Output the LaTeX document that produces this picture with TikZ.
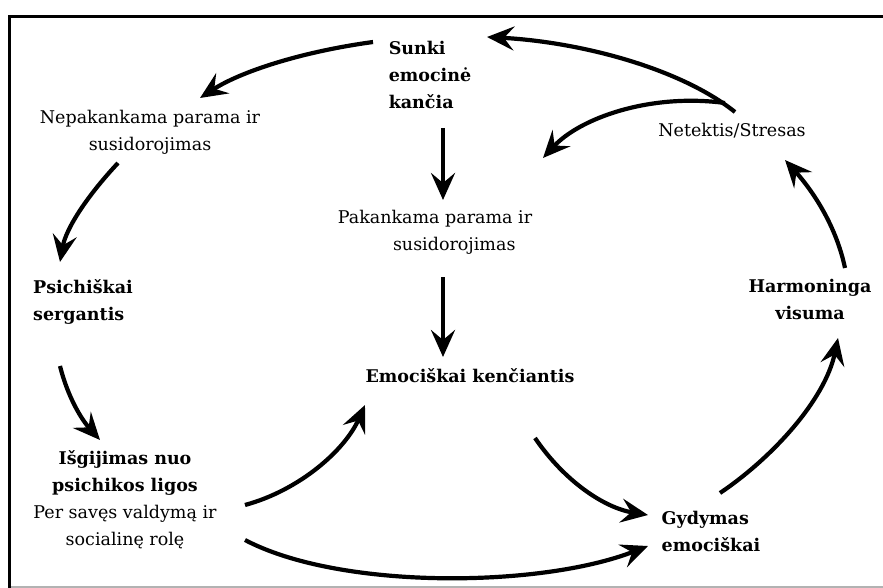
\documentclass[tikz,border=0pt]{standalone}
\usepackage{fontspec}
\setmainfont{DejaVu Serif}
\usetikzlibrary{arrows.meta}
\begin{document}
\begin{tikzpicture}[x=1pt,y=-1pt,
  txt/.style={inner sep=0pt,font=\fontsize{17.5}{27}\selectfont},
  bt/.style={inner sep=0pt,font=\fontsize{17.5}{27}\selectfont\bfseries},
  arr/.style={line width=4.2pt,-{Stealth[length=27pt,width=24pt,inset=10pt]}},
  frame/.style={line width=3.2pt}]
\useasboundingbox[fill=white] (0,0) rectangle (883,588);
% frame
\draw[frame] (9.5,588) -- (9.5,16.5) -- (883,16.5);
\draw[black!30,line width=1.5pt] (11,587) -- (883,587);
% nodes
\node[bt,align=left] (sunki) at (430,75) {Sunki\\emocinė\\kančia};
\node[txt,align=center] (nepak) at (150,132) {Nepakankama parama ir\\susidorojimas};
\node[txt,align=center] (pak) at (435,232) {Pakankama parama ir\\\hspace*{2.2em}susidorojimas};
\node[txt] (net) at (732,131) {Netektis/Stresas};
\node[bt,align=left] (psich) at (83,302) {Psichiškai\\sergantis};
\node[txt,align=center] (isg) at (125,500) {\textbf{Išgijimas nuo}\\\textbf{psichikos ligos}\\Per savęs valdymą ir\\socialinę rolę};
\node[bt] (emo) at (470,376) {Emociškai kenčiantis};
\node[bt,align=left] (gyd) at (711,531) {Gydymas\\emociškai};
\node[bt,align=center] (harm) at (810,299) {Harmoninga\\visuma};
% connector end points
\coordinate (s1) at (373,42);   \coordinate (n1) at (200,98);
\coordinate (n2) at (118,163);  \coordinate (p1) at (60,262);
\coordinate (p2) at (60,366);   \coordinate (i1) at (100,440);
\coordinate (i2) at (245,505);  \coordinate (e1) at (365,405);
\coordinate (i3) at (245,540);  \coordinate (g1) at (648,546);
\coordinate (e2) at (535,438);  \coordinate (g2) at (648,515);
\coordinate (g3) at (720,493);  \coordinate (h1) at (838,338);
\coordinate (h2) at (845,268);  \coordinate (t1) at (785,160);
\coordinate (t2) at (735,112);  \coordinate (s2) at (487,37);
\coordinate (t3) at (725,103);  \coordinate (k1) at (543,158);
\coordinate (s3) at (443,128);  \coordinate (k2) at (443,200);
\coordinate (k3) at (443,277);  \coordinate (e3) at (443,357);
% connectors
\draw[arr] (s1) .. controls (300,52) and (240,72) .. (n1);
\draw[arr] (n2) .. controls (88,195) and (66,228) .. (p1);
\draw[arr] (p2) .. controls (68,398) and (82,420) .. (i1);
\draw[arr] (i2) .. controls (300,490) and (345,450) .. (e1);
\draw[arr] (i3) .. controls (340,590) and (540,588) .. (g1);
\draw[arr] (e2) .. controls (565,482) and (605,508) .. (g2);
\draw[arr] (g3) .. controls (772,458) and (825,400) .. (h1);
\draw[arr] (h2) .. controls (836,225) and (812,190) .. (t1);
\draw[arr] (t2) .. controls (680,68) and (580,42) .. (s2);
\draw[arr] (t3) .. controls (650,93) and (580,118) .. (k1);
\draw[arr] (s3) -- (k2);
\draw[arr] (k3) -- (e3);
\end{tikzpicture}
\end{document}
